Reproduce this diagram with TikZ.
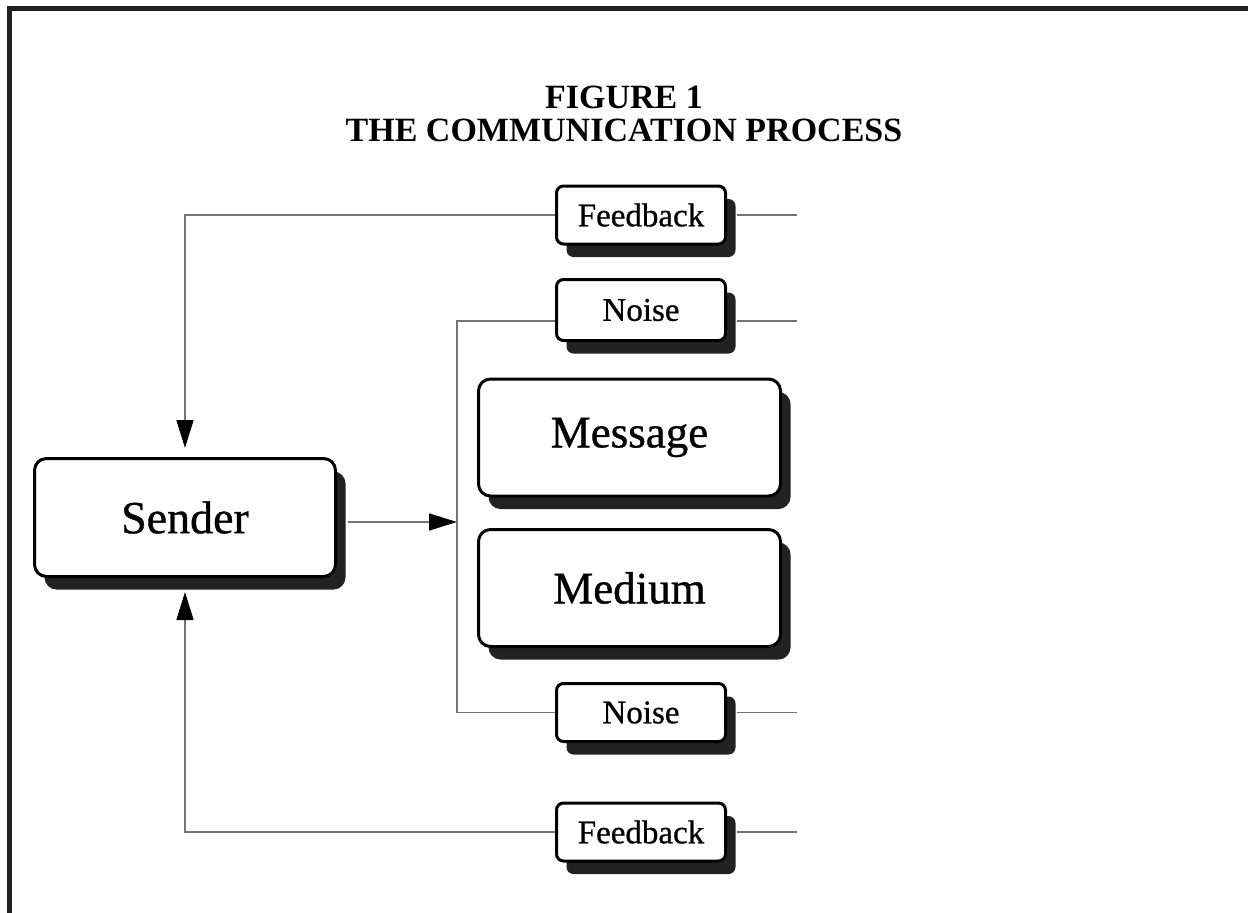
\documentclass[tikz,border=0pt]{standalone}
\usepackage{fontspec}
\setmainfont{Liberation Serif}
\newfontfamily\heavyserif[FakeBold=0.8]{Liberation Serif}
\usetikzlibrary{arrows.meta,shadows}
\definecolor{framegray}{HTML}{231F20}
\definecolor{shadowgray}{HTML}{222222}
\tikzset{
  block/.style={draw,line width=3pt,rounded corners=12pt,fill=white,
    drop shadow={shadow xshift=10pt,shadow yshift=-13pt,fill=shadowgray,opacity=1},
    minimum width=302pt,minimum height=117pt,inner sep=0pt,
    font=\heavyserif\fontsize{45}{50}\selectfont},
  tag/.style={block,rounded corners=7pt,minimum width=169pt,minimum height=58pt,
    font=\heavyserif\fontsize{33}{36}\selectfont},
  wire/.style={draw=black!55,line width=1.6pt},
  tip/.style={-{Triangle[length=28pt,width=17pt,color=black]}}
}
\begin{document}
\begin{tikzpicture}[x=1pt,y=-1pt]
\useasboundingbox (0,0) rectangle (1248,913);
\draw[line width=5pt,framegray] (9.5,913) -- (9.5,8.5) -- (1248,8.5);
%%%% title
\node[anchor=base,font=\bfseries\fontsize{34}{40}\selectfont] (fig) at (624,108) {FIGURE 1};
\node[anchor=base,font=\bfseries\fontsize{34}{40}\selectfont] (title) at (624,141) {THE COMMUNICATION PROCESS};
%%%% boxes
\node[block,minimum width=301pt,minimum height=118pt,font=\heavyserif\fontsize{46}{50}\selectfont] (sender) at (185,517.5) {Sender};
\node[block] (message) at (629.5,437.5) {Message};
\node[block] (medium) at (629.5,588) {Medium};
\node[tag] (fbtop) at (641,215) {Feedback};
\node[tag,minimum height=61pt] (noisetop) at (641,310) {Noise};
\node[tag] (noisebot) at (641,712.5) {Noise};
\node[tag] (fbbot) at (641,832) {Feedback};
%%%% wires
\coordinate (jn) at (457,522);
\coordinate (ntl) at (457,321);
\coordinate (rim) at (797,0);
\draw[wire,tip,shorten >=9pt] (fbtop.west) -| (sender.north);
\draw[wire,tip,shorten >=14pt] (fbbot.west) -| (sender.south);
\draw[wire,tip,shorten <=11pt] (sender.east |- jn) -- (jn);
\draw[wire] (noisetop.west |- ntl) -- (ntl) -- (jn) |- (noisebot.west);
\draw[wire,shorten <=10pt] (fbtop.east) -- (fbtop.east -| rim);
\draw[wire,shorten <=10pt] (noisetop.east |- ntl) -- (rim |- ntl);
\draw[wire,shorten <=10pt] (noisebot.east) -- (noisebot.east -| rim);
\draw[wire,shorten <=10pt] (fbbot.east) -- (fbbot.east -| rim);
\end{tikzpicture}
\end{document}
